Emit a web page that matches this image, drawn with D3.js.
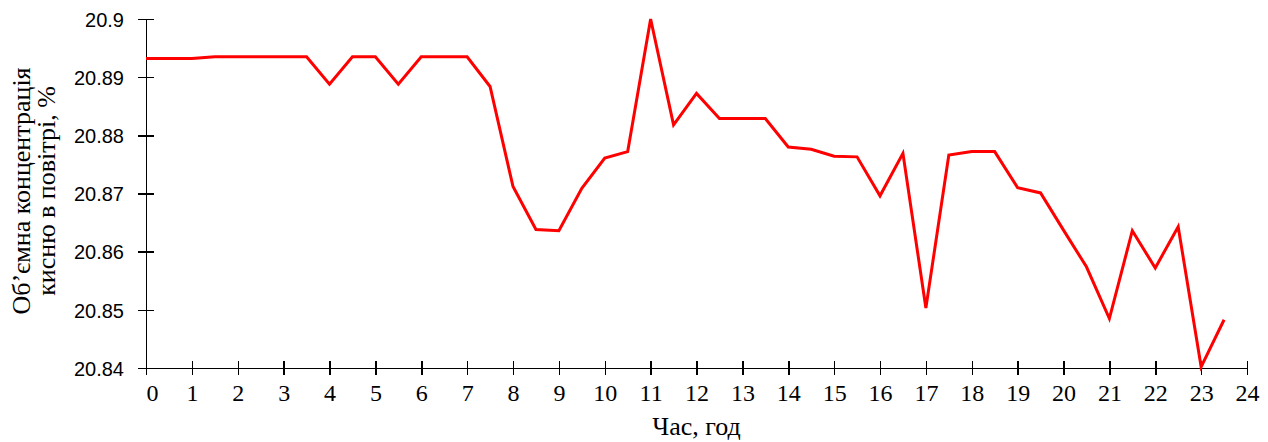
<!DOCTYPE html>
<html>
<head>
    <meta charset="UTF-8">
    <title></title>
    <style>
        body { margin: 0; background: #fff; }
        .axis path, .axis line { stroke: #000; stroke-width: 1.5; shape-rendering: crispEdges; }
        .xaxis text { font-family: 'Liberation Serif', serif; font-size: 24px; fill: #000; }
        .yaxis text { font-family: 'Liberation Sans', sans-serif; font-size: 20px; fill: #000; }
        .title { font-family: 'Liberation Serif', serif; font-size: 26px; fill: #000; }
        .line { fill: none; stroke: #ff0000; stroke-width: 3; stroke-linejoin: miter; }
    </style>
</head>
<body>
    <script src="https://d3js.org/d3.v7.min.js"></script>
    <script>
        /// data
        var hours = [0, 0.5, 1, 1.5, 2, 2.5, 3, 3.5, 4, 4.5, 5, 5.5, 6, 6.5, 7, 7.5,
                     8, 8.5, 9, 9.5, 10, 10.5, 11, 11.5, 12, 12.5, 13, 13.5, 14, 14.5, 15, 15.5,
                     16, 16.5, 17, 17.5, 18, 18.5, 19, 19.5, 20, 20.5, 21, 21.5, 22, 22.5, 23, 23.5];
        var oxygen = [20.8932, 20.8932, 20.8932, 20.8935, 20.8935, 20.8935, 20.8935, 20.8935,
                      20.8888, 20.8935, 20.8935, 20.8888, 20.8935, 20.8935, 20.8935, 20.8884,
                      20.8712, 20.8638, 20.8636, 20.8709, 20.8761, 20.8772, 20.9000, 20.8818,
                      20.8872, 20.8829, 20.8829, 20.8829, 20.8780, 20.8776, 20.8764, 20.8763,
                      20.8696, 20.8769, 20.8503, 20.8766, 20.8772, 20.8772, 20.8710, 20.8701,
                      20.8637, 20.8574, 20.8485, 20.8636, 20.8572, 20.8643, 20.8402, 20.8483];
        var xTicks = d3.range(0, 25, 1);
        var yTicks = [20.84, 20.85, 20.86, 20.87, 20.88, 20.89, 20.9];
        var xTitle = "Час, год";
        var yTitle = ["Об’ємна концентрація", "кисню в повітрі, %"];

        /// main
        var width = 1268, height = 442;
        var margin = {top: 19, right: 21, bottom: 74, left: 146};
        var w = width - margin.left - margin.right,
            h = height - margin.top - margin.bottom;

        var svg = d3.select("body").append("svg")
            .attr("width", width)
            .attr("height", height);

        var g = svg.append("g")
            .attr("transform", "translate(" + margin.left + "," + margin.top + ")");

        var x = d3.scaleLinear().domain([0, 24]).range([0, w]);
        var y = d3.scaleLinear().domain([20.84, 20.9]).range([h, 0]);

        // x axis, ticks cross the line
        var gx = g.append("g")
            .attr("class", "axis xaxis")
            .attr("transform", "translate(0," + h + ")")
            .call(d3.axisBottom(x).tickValues(xTicks).tickSize(7).tickPadding(9).tickSizeOuter(0));
        gx.selectAll(".tick line").attr("y1", -7);
        // first label sits a bit right of its tick
        gx.selectAll(".tick text").filter(function(d) { return d === 0; }).attr("dx", 6);

        var gy = g.append("g")
            .attr("class", "axis yaxis")
            .call(d3.axisLeft(y).tickValues(yTicks).tickSize(8).tickPadding(14).tickSizeOuter(0)
                .tickFormat(d3.format("")));
        gy.selectAll(".tick line").attr("x1", 8);
        gy.selectAll(".tick text").attr("dy", "0.36em");

        // line
        var line = d3.line()
            .x(function(d, i) { return x(hours[i]); })
            .y(function(d) { return y(d); });

        g.append("path")
            .datum(oxygen)
            .attr("class", "line")
            .attr("d", line);

        // titles
        svg.append("text")
            .attr("class", "title")
            .attr("x", margin.left + w / 2)
            .attr("y", 435)
            .attr("text-anchor", "middle")
            .text(xTitle);

        var yt = svg.append("text")
            .attr("class", "title")
            .attr("transform", "translate(30,191) rotate(-90)")
            .attr("text-anchor", "middle");
        yt.append("tspan").attr("x", 0).attr("y", 0).text(yTitle[0]);
        yt.append("tspan").attr("x", 0).attr("y", 25).text(yTitle[1]);
    </script>
</body>
</html>
